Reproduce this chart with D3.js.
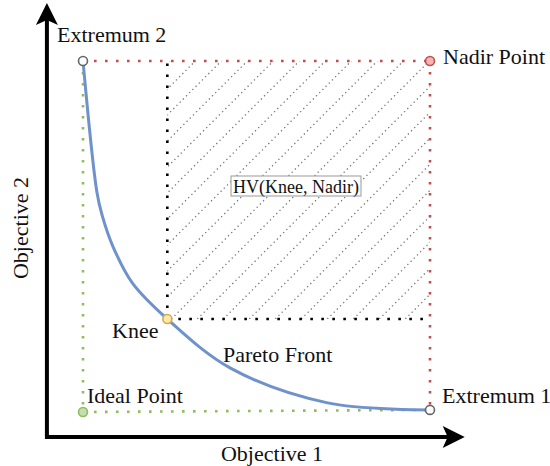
<!DOCTYPE html>
<html><head><meta charset="utf-8">
<script src="https://cdn.jsdelivr.net/npm/d3@7"></script>
<style>body{margin:0;background:#fff}svg{display:block}svg text{font-family:"Liberation Serif",serif}</style>
</head><body>
<svg id="c" width="550" height="466"></svg>
<script>
// Data (objective space, normalised: ideal = (0,0), nadir = (1,1))
const frontX = [0, 0.040, 0.055, 0.087, 0.142, 0.243, 0.425, 0.705, 1.0];
const frontY = [1, 0.627, 0.561, 0.470, 0.368, 0.265, 0.125, 0.026, 0.006];
const pointNames = ["Extremum 2", "Nadir Point", "Knee", "Ideal Point", "Extremum 1"];
const pointX = [0, 1, 0.243, 0, 1];
const pointY = [1, 1, 0.265, 0, 0.006];
const axisLabels = ["Objective 1", "Objective 2"];
const hvLabel = "HV(Knee, Nadir)";
const frontLabel = "Pareto Front";

const FONT = '"Liberation Serif"';
const svg = d3.select("#c");
const x = d3.scaleLinear().domain([0, 1]).range([83, 430]);
const y = d3.scaleLinear().domain([0, 1]).range([412, 61]);

const P = {};
pointNames.forEach((n, i) => P[n] = {x: x(pointX[i]), y: y(pointY[i])});
const knee = P["Knee"], nadir = P["Nadir Point"], ideal = P["Ideal Point"],
      e1 = P["Extremum 1"], e2 = P["Extremum 2"];

// Axes
const ax0 = x(-0.104), ay0 = y(-0.071), axEnd = x(1.10), ayEnd = y(1.165);
svg.append("line").attr("x1", ax0).attr("y1", ay0).attr("x2", axEnd - 12).attr("y2", ay0)
  .attr("stroke", "#000").attr("stroke-width", 4);
svg.append("line").attr("x1", ax0).attr("y1", ay0 + 2).attr("x2", ax0).attr("y2", ayEnd + 12)
  .attr("stroke", "#000").attr("stroke-width", 4);
svg.append("path").attr("d", `M${axEnd},${ay0} L${axEnd-22},${ay0-11} L${axEnd-17},${ay0} L${axEnd-22},${ay0+11} Z`).attr("fill", "#000");
svg.append("path").attr("d", `M${ax0},${ayEnd} L${ax0-11},${ayEnd+22} L${ax0},${ayEnd+17} L${ax0+11},${ayEnd+22} Z`).attr("fill", "#000");

// Hatched HV region
const clip = svg.append("defs").append("clipPath").attr("id", "hv");
clip.append("rect").attr("x", knee.x).attr("y", nadir.y).attr("width", nadir.x - knee.x).attr("height", knee.y - nadir.y);
const hg = svg.append("g").attr("clip-path", "url(#hv)");
const h = knee.y - nadir.y;
for (let x0 = knee.x - h + 2; x0 < nadir.x; x0 += 26) {
  hg.append("line").attr("x1", x0).attr("y1", knee.y).attr("x2", x0 + h).attr("y2", nadir.y)
    .attr("stroke", "#777").attr("stroke-width", 1.3).attr("stroke-dasharray", "1.3,3.2");
}

function dline(x1, y1, x2, y2, col, w, dash) {
  svg.append("line").attr("x1", x1).attr("y1", y1).attr("x2", x2).attr("y2", y2)
    .attr("stroke", col).attr("stroke-width", w).attr("stroke-dasharray", dash);
}
// Black dotted lines from knee
dline(knee.x, knee.y, knee.x, nadir.y, "#000", 2.6, "2.6,8.4");
dline(knee.x, knee.y, nadir.x, knee.y, "#000", 2.6, "2.6,8.4");

// Red and green dotted lines
const red = "#c0504d", green = "#8fbc5f";
dline(e2.x, e2.y, nadir.x, nadir.y, red, 2.6, "2.6,8.4");
dline(nadir.x, nadir.y, e1.x, e1.y, red, 2.6, "2.6,8.4");
dline(e2.x, e2.y, ideal.x, ideal.y, green, 2.6, "2.6,8.4");
dline(ideal.x, ideal.y, e1.x, e1.y, green, 2.6, "2.6,8.4");

function label(xp, yp, txt, anchor, size, transform) {
  const t = svg.append("text").style("font-family", FONT).style("font-size", (size || 22) + "px")
    .attr("fill", "#111").attr("text-anchor", anchor || "start").text(txt);
  if (transform) t.attr("transform", transform); else t.attr("x", xp).attr("y", yp);
  return t;
}

// HV label box
const boxG = svg.append("g");
const hvt = label(296, 193, hvLabel, "middle", 18);
const bb = hvt.node().getBBox();
boxG.append("rect").attr("x", bb.x - 2).attr("y", 176).attr("width", bb.width + 4).attr("height", 20)
  .attr("fill", "#fff").attr("stroke", "#999").attr("stroke-width", 1);

// Pareto front
const line = d3.line().x(d => x(d[0])).y(d => y(d[1])).curve(d3.curveCatmullRom.alpha(0.5));
svg.append("path").datum(frontX.map((v, i) => [v, frontY[i]])).attr("d", line)
  .attr("fill", "none").attr("stroke", "#6f92cb").attr("stroke-width", 3).attr("stroke-linejoin", "round");

// Points
const fills = ["#ffffff", "#f6b3b3", "#fde9a9", "#c3dfae", "#ffffff"];
const strokes = ["#666666", "#c0504d", "#d8a94a", "#8fbc5f", "#666666"];
pointNames.forEach((n, i) => {
  svg.append("circle").attr("cx", P[n].x).attr("cy", P[n].y).attr("r", 4.5)
    .attr("fill", fills[i]).attr("stroke", strokes[i]).attr("stroke-width", 1.6);
});

// Labels
label(57, 42, pointNames[0]);
label(443, 64, pointNames[1]);
label(112, 338, pointNames[2]);
label(87, 403, pointNames[3]);
label(442, 403, pointNames[4]);
label(223, 362, frontLabel);
label(272, 461, axisLabels[0], "middle");
label(0, 0, axisLabels[1], "middle", 22, "translate(28,228) rotate(-90)");
</script>
</body></html>
